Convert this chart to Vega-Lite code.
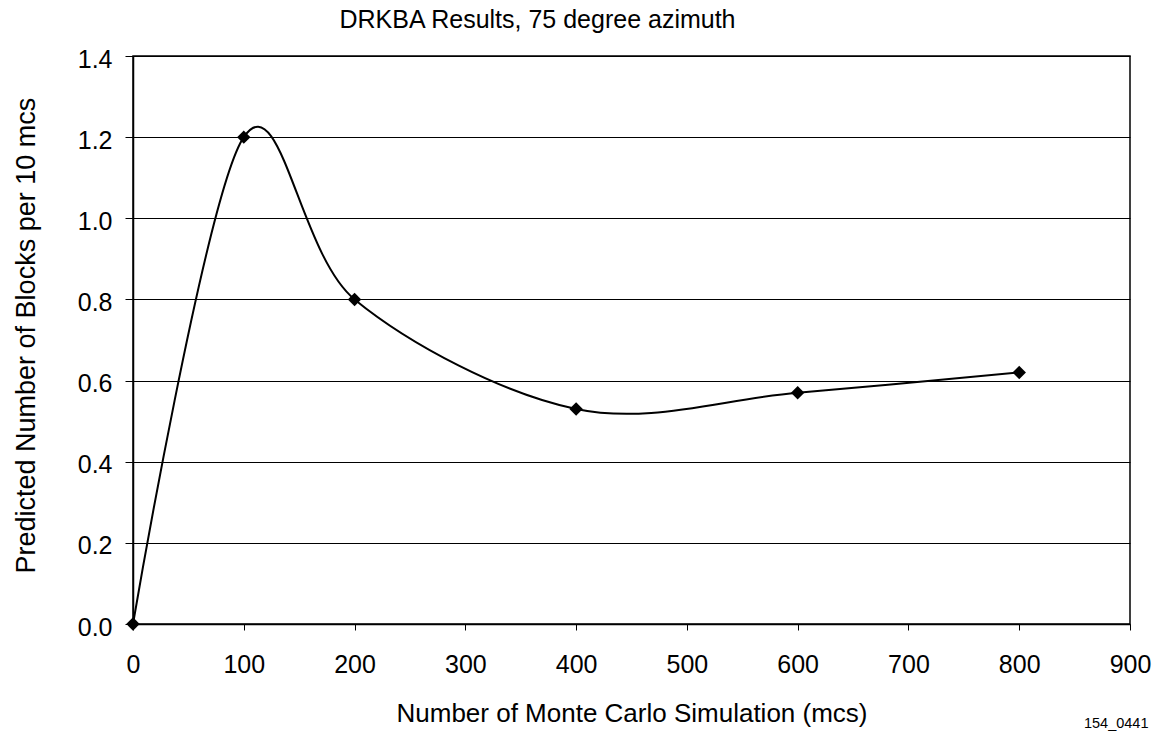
{
  "$schema": "https://vega.github.io/schema/vega-lite/v6.json",
  "width": 997,
  "height": 568,
  "autosize": {"type": "none"},
  "padding": {"left": 133, "top": 56, "right": 31, "bottom": 110},
  "background": "white",
  "config": {
    "font": "Liberation Sans",
    "view": {"stroke": "black", "strokeWidth": 1.5},
    "axis": {
      "domainColor": "black",
      "domainWidth": 1.5,
      "tickColor": "black",
      "tickWidth": 1,
      "labelColor": "black",
      "labelFontSize": 25,
      "labelFlush": false,
      "labelOverlap": false,
      "labelBound": false,
      "titleColor": "black",
      "titleFontWeight": "normal"
    }
  },
  "title": {
    "text": "DRKBA Results, 75 degree azimuth",
    "font": "Liberation Sans",
    "fontSize": 25,
    "fontWeight": "normal",
    "color": "black",
    "anchor": "middle",
    "frame": "group",
    "dx": -94,
    "offset": 14
  },
  "data": {
    "values": [
      {"mcs": 0, "blocks": 0.0},
      {"mcs": 100, "blocks": 1.2},
      {"mcs": 200, "blocks": 0.8},
      {"mcs": 400, "blocks": 0.53},
      {"mcs": 600, "blocks": 0.57},
      {"mcs": 800, "blocks": 0.62}
    ]
  },
  "resolve": {"axis": {"x": "independent"}},
  "layer": [
    {
      "mark": {"type": "line", "interpolate": "cardinal", "tension": 0, "color": "black", "strokeWidth": 2},
      "encoding": {
        "x": {
          "field": "mcs",
          "type": "quantitative",
          "scale": {"domain": [0, 900], "nice": false, "zero": false},
          "axis": {
            "values": [0, 100, 200, 300, 400, 500, 600, 700, 800, 900],
            "format": "d",
            "grid": false,
            "tickSize": 6,
            "labelPadding": 22,
            "title": "Number of Monte Carlo Simulation (mcs)",
            "titleFontSize": 26,
            "titleBaseline": "alphabetic",
            "titleAnchor": "middle",
            "titleY": 97.5
          }
        },
        "y": {
          "field": "blocks",
          "type": "quantitative",
          "scale": {"domain": [0, 1.4], "nice": false},
          "axis": {
            "values": [0, 0.2, 0.4, 0.6, 0.8, 1.0, 1.2, 1.4],
            "format": ".1f",
            "grid": true,
            "gridColor": "black",
            "gridWidth": 1,
            "gridOpacity": 1,
            "tickSize": 8,
            "labelPadding": 13,
            "labelOffset": 3,
            "title": "Predicted Number of Blocks per 10 mcs",
            "titleFontSize": 27,
            "titleAngle": -90,
            "titleAlign": "left",
            "titleBaseline": "alphabetic",
            "titleX": -99,
            "titleY": 517
          }
        }
      }
    },
    {
      "mark": {"type": "point", "shape": "diamond", "filled": true, "color": "black", "size": 180, "opacity": 1},
      "encoding": {
        "x": {
          "field": "mcs",
          "type": "quantitative",
          "scale": {"domain": [0, 900], "nice": false, "zero": false},
          "axis": {
            "orient": "bottom",
            "labels": false,
            "ticks": false,
            "domain": false,
            "grid": false,
            "title": "154_0441",
            "titleFontSize": 14.5,
            "titleAlign": "right",
            "titleAnchor": "end",
            "titleBaseline": "alphabetic",
            "titleX": 1015,
            "titleY": 103.5
          }
        },
        "y": {"field": "blocks", "type": "quantitative"}
      }
    }
  ]
}
